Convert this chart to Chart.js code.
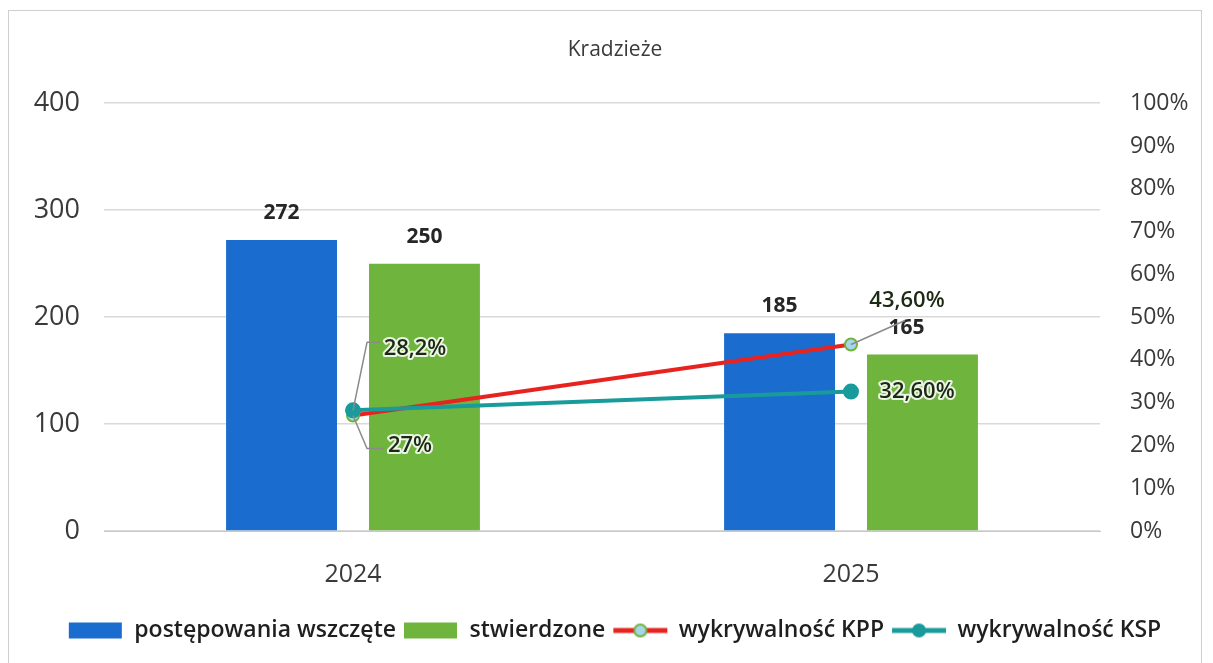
<!DOCTYPE html>
<html>
<head>
<meta charset="utf-8">
<script src="https://cdn.jsdelivr.net/npm/chart.js@4.4.1/dist/chart.umd.min.js"></script>
<style>
  html, body { margin: 0; padding: 0; background: #fff; }
  #wrap { position: relative; width: 1213px; height: 663px; }
  #frame { position: absolute; left: 8px; top: 10px; width: 1194px; height: 660px; border: 1px solid #cfcfcf; box-sizing: border-box; }
  #chart { position: absolute; left: 0; top: 0; }
</style>
</head>
<body>
<div id="wrap">
  <div id="frame"></div>
  <canvas id="chart" width="1213" height="663"></canvas>
</div>
<script>
// dane
const categories = ['2024', '2025'];
const wszczete = [272, 185];
const stwierdzone = [250, 165];
const wykrywalnoscKPP = [27, 43.6];
const wykrywalnoscKSP = [28.2, 32.6];
const kppLabels = ['27%', '43,60%'];
const kspLabels = ['28,2%', '32,60%'];
const leftTicks = [0, 100, 200, 300, 400];

const BLUE = '#1b6ccf';
const GREEN = '#6fb43c';
const RED = '#e8231f';
const TEAL = '#1a9b9b';

// przesunięcia etykiet procentowych [dx, dy, leader?]
const kppLabelPos = [[57, 30, true], [56, -44, true]];
const kspLabelPos = [[62, -62, true], [66, 0, false]];

function swatch(kind, color, pointFill, pointBorder) {
    const c = document.createElement('canvas');
    c.width = 56; c.height = 20;
    const g = c.getContext('2d');
    if (kind === 'box') {
        g.fillStyle = color;
        g.fillRect(1, 2, 53, 16);
    } else {
        g.strokeStyle = color;
        g.lineWidth = 5;
        g.beginPath(); g.moveTo(1, 10); g.lineTo(55, 10); g.stroke();
        g.fillStyle = pointFill;
        g.strokeStyle = pointBorder;
        g.lineWidth = 2;
        g.beginPath(); g.arc(28, 10, 6, 0, Math.PI * 2); g.fill(); g.stroke();
    }
    return c;
}

const legendSwatches = [
    swatch('box', BLUE),
    swatch('box', GREEN),
    swatch('line', RED, '#a6d6ea', '#72b33e'),
    swatch('line', TEAL, TEAL, TEAL)
];

const labelPlugin = {
    id: 'valueLabels',
    afterDatasetsDraw(chart) {
        const ctx = chart.ctx;
        ctx.save();
        // etykiety słupków
        ctx.font = 'bold 21px "Open Sans"';
        ctx.fillStyle = '#262626';
        ctx.textAlign = 'center';
        ctx.textBaseline = 'middle';
        [0, 1].forEach(di => {
            const meta = chart.getDatasetMeta(di);
            meta.data.forEach((el, i) => {
                const v = chart.data.datasets[di].data[i];
                let dx = 0;
                if (di === 1 && i === 1) dx = -16;
                ctx.fillText(String(v), el.x + dx, el.y - 27);
            });
        });
        // etykiety procentowe
        const drawPct = (di, texts, pos) => {
            const meta = chart.getDatasetMeta(di);
            meta.data.forEach((el, i) => {
                const [dx, dy, leader] = pos[i];
                const lx = el.x + dx, ly = el.y + dy;
                ctx.font = '600 22px "Open Sans"';
                const w = ctx.measureText(texts[i]).width;
                if (leader) {
                    ctx.strokeStyle = '#8a8a8a';
                    ctx.lineWidth = 1.5;
                    ctx.beginPath();
                    ctx.moveTo(el.x, el.y);
                    if (Math.abs(dy) > 50 || dy > 0) {
                        const ex = lx - w / 2 - 4;
                        ctx.lineTo(el.x + 14, ly + (dy < 0 ? -6 : 3));
                        ctx.lineTo(ex, ly + (dy < 0 ? -6 : 3));
                    } else {
                        ctx.lineTo(lx - 2, ly + 20);
                    }
                    ctx.stroke();
                }
                ctx.lineWidth = 4;
                ctx.strokeStyle = 'rgba(255,255,255,0.85)';
                ctx.lineJoin = 'round';
                ctx.strokeText(texts[i], lx, ly);
                ctx.fillStyle = '#1c2a14';
                ctx.fillText(texts[i], lx, ly);
            });
        };
        drawPct(2, kppLabels, kppLabelPos);
        drawPct(3, kspLabels, kspLabelPos);
        ctx.restore();
    }
};

const ctx = document.getElementById('chart').getContext('2d');

new Chart(ctx, {
    type: 'bar',
    data: {
        labels: categories,
        datasets: [
            {
                label: 'postępowania wszczęte',
                data: wszczete,
                backgroundColor: BLUE,
                yAxisID: 'y',
                categoryPercentage: 0.574,
                barPercentage: 0.776,
                order: 2
            },
            {
                label: 'stwierdzone',
                data: stwierdzone,
                backgroundColor: GREEN,
                yAxisID: 'y',
                categoryPercentage: 0.574,
                barPercentage: 0.776,
                order: 2
            },
            {
                type: 'line',
                label: 'wykrywalność KPP',
                data: wykrywalnoscKPP,
                borderColor: RED,
                borderWidth: 4,
                pointRadius: 6,
                pointBackgroundColor: '#a6d6ea',
                pointBorderColor: '#72b33e',
                pointBorderWidth: 2,
                yAxisID: 'y1',
                order: 1
            },
            {
                type: 'line',
                label: 'wykrywalność KSP',
                data: wykrywalnoscKSP,
                borderColor: TEAL,
                borderWidth: 4,
                pointRadius: 6,
                pointBackgroundColor: TEAL,
                pointBorderColor: TEAL,
                yAxisID: 'y1',
                order: 0
            }
        ]
    },
    options: {
        responsive: false,
        animation: false,
        layout: { padding: { left: 30, right: 13, top: 0, bottom: 11 } },
        plugins: {
            tooltip: { enabled: false },
            title: {
                display: true,
                text: 'Kradzieże',
                color: '#3a3a3a',
                font: { family: 'Open Sans', size: 21, weight: 'normal' },
                padding: { top: 37, bottom: 41 }
            },
            legend: {
                position: 'bottom',
                labels: {
                    usePointStyle: true,
                    pointStyleWidth: 54,
                    boxHeight: 20,
                    padding: 8,
                    color: '#1f1f1f',
                    font: { family: 'Open Sans', size: 23, weight: '600' },
                    generateLabels(chart) {
                        return chart.data.datasets.map((ds, i) => ({
                            text: ds.label,
                            pointStyle: legendSwatches[i],
                            fillStyle: 'transparent',
                            strokeStyle: 'transparent',
                            lineWidth: 0,
                            fontColor: '#1f1f1f',
                            datasetIndex: i,
                            hidden: false
                        }));
                    }
                }
            }
        },
        scales: {
            x: {
                grid: { display: false },
                border: { display: true, color: '#c8c8c8' },
                ticks: { color: '#3a3a3a', padding: 21, font: { family: 'Open Sans', size: 25 } },
                afterFit(scale) { scale.height = 80; }
            },
            y: {
                position: 'left',
                min: 0,
                max: 400,
                afterBuildTicks(scale) { scale.ticks = leftTicks.map(v => ({ value: v })); },
                grid: { color: '#d9d9d9', lineWidth: 1.5, drawTicks: false },
                border: { display: false },
                ticks: { color: '#3a3a3a', padding: 24, font: { family: 'Open Sans', size: 27 } },
                afterFit(scale) { scale.width = 74; }
            },
            y1: {
                position: 'right',
                min: 0,
                max: 100,
                grid: { display: false, drawTicks: false },
                border: { display: false },
                ticks: {
                    stepSize: 10,
                    color: '#3a3a3a',
                    padding: 30,
                    font: { family: 'Open Sans', size: 23 },
                    callback: v => v + '%'
                },
                afterFit(scale) { scale.width = 100; }
            }
        }
    },
    plugins: [labelPlugin]
});
</script>
</body>
</html>
